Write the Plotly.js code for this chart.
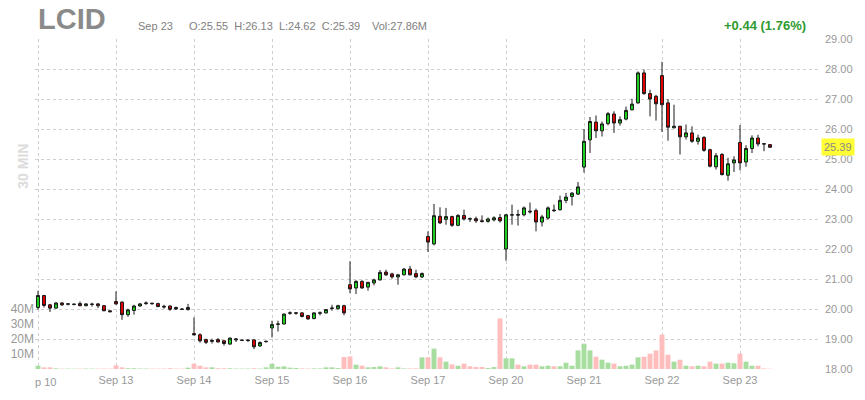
<!DOCTYPE html>
<html>
<head>
<meta charset="utf-8">
<script src="https://cdn.plot.ly/plotly-3.0.1.min.js"></script>
<style>html,body{margin:0;padding:0;background:#fff;}#chart{width:865px;height:400px;}</style>
</head>
<body>
<div id="chart"></div>
<script>
// 30-minute bars, index 0 = first bar of Sep 10
const dayLabels = ['Sep 10','Sep 13','Sep 14','Sep 15','Sep 16','Sep 17','Sep 20','Sep 21','Sep 22','Sep 23'];
const dayStartIdx = [0,13,26,39,52,65,78,91,104,117];

const openP = [
 20.05,20.45,20.14,20.03,20.20,20.16,20.15,20.18,20.11,20.15,20.17,20.11,19.94,
 20.25,20.23,19.81,19.95,20.10,20.18,20.19,20.18,20.09,20.10,20.05,20.00,19.98,
 19.18,19.14,18.98,18.92,18.98,18.94,18.83,18.97,18.95,18.95,18.97,18.77,18.91,
 19.37,19.49,19.50,19.86,19.86,19.87,19.78,19.68,19.86,19.87,20.02,20.01,20.11,
 20.81,20.70,20.92,20.73,20.87,20.97,21.23,21.17,21.07,21.14,21.33,21.18,21.07,
 22.42,22.17,23.09,22.99,23.08,22.79,23.12,23.01,23.01,22.94,22.92,22.97,23.05,
 22.00,23.13,23.15,23.14,23.26,23.28,22.90,23.03,23.30,23.31,23.62,23.75,23.83,
 24.73,25.64,26.23,25.94,26.18,26.50,26.20,26.33,26.64,26.87,27.87,27.18,27.09,
 27.78,26.87,26.04,26.09,25.74,25.87,25.59,25.72,25.31,24.74,25.15,24.46,24.87,
 25.55,24.90,25.35,25.70,25.51,25.48
];
const highP = [
 20.61,20.47,20.17,20.23,20.23,20.20,20.18,20.25,20.19,20.21,20.20,20.13,19.95,
 20.59,20.25,20.01,20.14,20.20,20.25,20.22,20.21,20.14,20.12,20.08,20.02,20.17,
 19.72,19.19,19.01,19.01,19.03,18.97,19.05,19.03,18.98,18.99,18.99,18.92,18.95,
 19.61,19.61,19.85,19.92,19.90,19.90,19.80,19.89,19.92,20.00,20.14,20.14,20.14,
 21.59,20.96,20.96,20.90,21.01,21.30,21.31,21.21,21.17,21.37,21.44,21.31,21.22,
 22.59,23.50,23.39,23.37,23.11,23.16,23.31,23.05,23.08,23.12,23.05,23.09,23.17,
 23.17,23.48,23.31,23.42,23.55,23.35,23.14,23.42,23.48,23.78,23.87,23.90,24.23,
 26.00,26.40,26.45,26.25,26.57,26.59,26.42,26.75,27.01,27.92,27.98,27.31,27.14,
 28.24,27.00,26.81,26.11,26.15,26.09,25.81,25.76,25.34,25.20,25.20,25.04,25.09,
 26.13,25.46,25.79,25.81,25.53,25.50
];
const lowP = [
 19.98,20.05,19.90,20.01,20.10,20.12,20.12,20.09,20.09,20.08,20.03,19.93,19.89,
 20.14,19.64,19.74,19.81,20.08,20.14,20.14,20.06,20.01,19.94,19.97,19.97,19.95,
 19.12,18.88,18.83,18.85,18.89,18.78,18.81,18.90,18.93,18.90,18.66,18.74,18.88,
 19.05,19.25,19.49,19.81,19.81,19.72,19.64,19.66,19.79,19.85,19.94,19.98,19.79,
 20.53,20.50,20.68,20.61,20.79,20.95,21.10,21.01,20.81,21.12,21.12,21.03,21.03,
 21.90,22.12,22.83,22.81,22.74,22.76,22.95,22.90,22.87,22.88,22.88,22.92,22.88,
 21.61,22.81,22.78,23.09,23.18,22.59,22.75,22.98,23.23,23.28,23.53,23.45,23.80,
 24.55,25.20,25.70,25.75,26.12,25.87,26.11,26.29,26.62,26.84,27.14,26.42,26.28,
 25.90,25.61,26.02,25.15,25.65,25.54,25.48,25.24,24.72,24.65,24.45,24.28,24.57,
 24.62,24.74,25.20,25.42,25.26,25.38
];
const closeP = [
 20.45,20.12,20.03,20.20,20.14,20.17,20.16,20.11,20.17,20.16,20.11,19.94,19.91,
 20.17,19.81,19.97,20.10,20.17,20.20,20.18,20.08,20.07,19.99,20.00,19.99,20.05,
 19.14,18.94,18.89,18.95,18.90,18.85,19.03,19.00,18.96,18.96,18.74,18.88,18.92,
 19.48,19.50,19.83,19.87,19.87,19.75,19.67,19.87,19.87,19.98,20.03,20.11,19.87,
 20.67,20.92,20.70,20.89,20.97,21.22,21.14,21.07,21.14,21.33,21.14,21.07,21.18,
 22.23,23.11,22.87,23.08,22.79,23.12,23.00,23.00,22.94,22.92,23.00,23.04,22.94,
 23.14,23.14,23.13,23.37,23.24,22.90,23.07,23.37,23.28,23.62,23.73,23.86,24.07,
 25.59,26.25,25.94,26.17,26.51,26.20,26.31,26.62,26.83,27.87,27.18,27.00,26.84,
 26.81,26.06,26.09,25.74,25.87,25.59,25.70,25.29,24.76,25.11,24.48,24.84,24.97,
 24.87,25.35,25.70,25.50,25.50,25.39
];
// volume in millions of shares
const volumeM = [
 2.2,1.1,1.1,0.45,0.25,0.3,0.25,0.3,0.3,0.3,0.3,0.3,0.3,
 2.4,1.1,0.5,0.5,0.35,0.3,0.3,0.3,0.3,0.5,0.3,0.3,0.9,
 3.5,2.2,1.1,1.1,0.5,0.5,0.5,0.3,0.3,0.3,0.5,0.3,1.1,
 3.5,1.5,1.8,0.9,0.7,0.4,0.3,0.4,0.4,1.1,1.1,0.6,8.0,
 8.4,2.9,2.2,1.1,1.3,1.8,1.1,0.4,1.1,0.4,0.4,0.4,7.8,
 7.8,13.6,7.8,4.9,3.1,2.2,3.6,1.8,1.3,1.3,0.7,1.3,33.7,
 7.1,7.1,2.9,1.8,2.9,2.9,1.8,2.2,1.8,1.8,4.2,2.2,12.4,
 16.9,12.4,8.2,6.2,4.2,3.6,1.8,2.2,2.9,7.8,8.2,10.2,12.4,
 22.9,9.5,4.9,6.2,2.2,1.8,2.2,1.8,4.9,3.6,3.6,4.2,3.8,
 10.2,4.9,2.2,2.2,0.4,0.2
];
const volTickVals = [10,20,30,40];
const volTickText = ['10M','20M','30M','40M'];

const idx = openP.map((_, i) => i);
const volColors = idx.map(i => closeP[i] >= openP[i] ? 'rgb(168,221,160)' : 'rgb(255,190,190)');

// pixel helpers for header annotations (plot area: left 35, width 783, bottom 369.3, height 330)
const L = 35, W = 783, B = 369.3, H = 330;
const px = x => (x - L) / W;
const py = y => (B - y) / H;

const font = 'Arial, "Liberation Sans", sans-serif';

const traces = [
  {
    type: 'bar', x: idx, y: volumeM, yaxis: 'y2', width: 0.82,
    marker: {color: volColors, line: {width: 0}}, hoverinfo: 'skip', showlegend: false
  },
  {
    type: 'candlestick', x: idx, open: openP, high: highP, low: lowP, close: closeP,
    increasing: {line: {color: '#1a1a1a', width: 1}, fillcolor: '#1ed41e'},
    decreasing: {line: {color: '#1a1a1a', width: 1}, fillcolor: '#e60000'},
    whiskerwidth: 0, hoverinfo: 'skip', showlegend: false
  }
];

const layout = {
  width: 865, height: 400,
  margin: {l: 35, r: 47, t: 39, b: 31, pad: 0},
  paper_bgcolor: '#fff', plot_bgcolor: '#fff',
  showlegend: false,
  font: {family: font, size: 11, color: '#999'},
  xaxis: {
    type: 'linear', range: [-0.5, 130],
    tickvals: dayStartIdx, ticktext: dayLabels.map((d, i) => i === 0 ? '' : d),
    showgrid: true, gridcolor: '#cfcfcf', griddash: '3px,3px', gridwidth: 1,
    zeroline: false, showline: false, ticks: '', ticklabelstandoff: 3,
    rangeslider: {visible: false}, fixedrange: true,
    tickfont: {size: 11, color: '#999'}
  },
  yaxis: {
    side: 'right', range: [18, 29], dtick: 1, tick0: 18, tickformat: '.2f',
    showgrid: true, gridcolor: '#cfcfcf', griddash: '3px,3px', gridwidth: 1,
    zeroline: false, showline: false, ticks: '', ticklabelstandoff: 6,
    tickfont: {size: 11, color: '#999'}, fixedrange: true
  },
  yaxis2: {
    overlaying: 'y', side: 'left', range: [0, 220],
    tickvals: volTickVals, ticktext: volTickText,
    showgrid: false, zeroline: false, showline: false, ticks: '',
    tickfont: {size: 12, color: '#999'}, fixedrange: true
  },
  annotations: [
    {text: '<b>LCID</b>', xref: 'paper', yref: 'paper', x: px(36), y: py(19), xanchor: 'left', yanchor: 'middle',
     showarrow: false, font: {family: font, size: 29, color: '#8a8a8a'}},
    {text: 'Sep 23', xref: 'paper', yref: 'paper', x: px(136), y: py(26), xanchor: 'left', yanchor: 'middle',
     showarrow: false, font: {family: font, size: 11, color: '#808080'}},
    {text: 'O:25.55&nbsp; H:26.13&nbsp; L:24.62&nbsp; C:25.39', xref: 'paper', yref: 'paper', x: px(187), y: py(26), xanchor: 'left', yanchor: 'middle',
     showarrow: false, font: {family: font, size: 11, color: '#808080'}},
    {text: 'Vol:27.86M', xref: 'paper', yref: 'paper', x: px(370), y: py(26), xanchor: 'left', yanchor: 'middle',
     showarrow: false, font: {family: font, size: 11, color: '#808080'}},
    {text: '<b>+0.44 (1.76%)</b>', xref: 'paper', yref: 'paper', x: px(722), y: py(26), xanchor: 'left', yanchor: 'middle',
     showarrow: false, font: {family: font, size: 13, color: '#2f9a2f'}},
    {text: '25.39', xref: 'paper', yref: 'y', x: px(821), y: closeP[closeP.length - 1], xanchor: 'left', yanchor: 'middle',
     showarrow: false, bgcolor: '#ffff33', borderpad: 2, font: {family: font, size: 11, color: '#888'}},
    {text: '<b>30 MIN</b>', xref: 'paper', yref: 'paper', x: px(23), y: py(167), xanchor: 'center', yanchor: 'middle',
     textangle: -90, showarrow: false, font: {family: font, size: 14, color: '#dcdcdc'}},
    {text: 'p 10', xref: 'paper', yref: 'paper', x: px(33), y: py(382), xanchor: 'left', yanchor: 'middle',
     showarrow: false, font: {family: font, size: 11, color: '#999'}}
  ]
};

Plotly.newPlot('chart', traces, layout, {displayModeBar: false, staticPlot: true});
</script>
</body>
</html>
